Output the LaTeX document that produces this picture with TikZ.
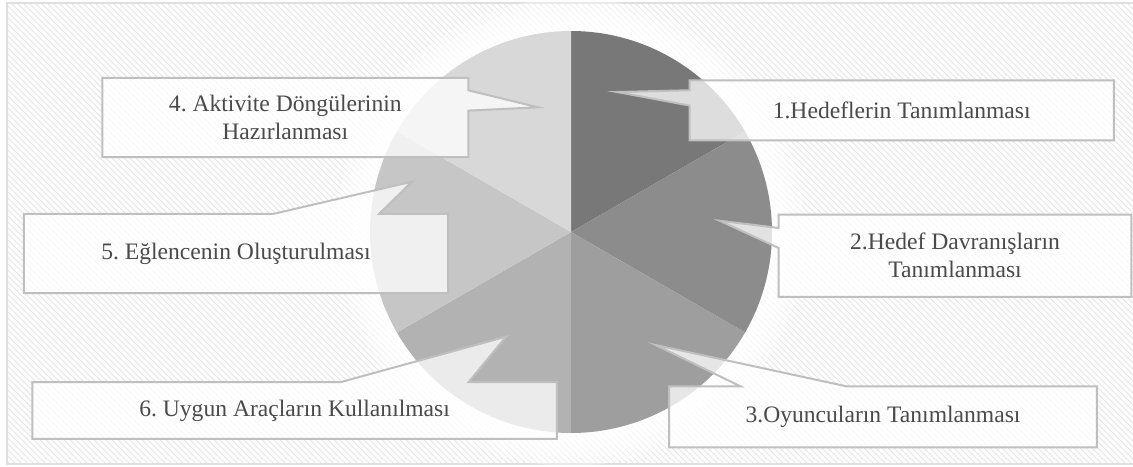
\documentclass[tikz,border=0pt]{standalone}
\usepackage{fontspec}
\setmainfont{Liberation Serif}
\usetikzlibrary{calc, patterns}
\frenchspacing

\definecolor{sliceA}{HTML}{787878}
\definecolor{sliceB}{HTML}{8C8C8C}
\definecolor{sliceC}{HTML}{9E9E9E}
\definecolor{sliceD}{HTML}{B2B2B2}
\definecolor{sliceE}{HTML}{C6C6C6}
\definecolor{sliceF}{HTML}{D8D8D8}
\definecolor{boxline}{HTML}{BFBFBF}
\definecolor{labeltext}{HTML}{4A4A4A}

\pgfdeclarelayer{background}
\pgfsetlayers{background,main}

\begin{document}
\begin{tikzpicture}[
            x=0.5pt, y=-0.5pt,
            callout/.style={draw=boxline, line width=1pt, fill=white, fill opacity=0.75},
            label box/.style={inner sep=0pt, text=labeltext, align=center, font=\fontsize{11.8pt}{14pt}\selectfont}
        ]
        \useasboundingbox (0, 0) rectangle (1133, 466);
        \coordinate (pc) at (571, 232);

        % Labels
        \node [label box, minimum width=211.75pt, minimum height=29.65pt] (goals) at (901.7, 110.3) {1.Hedeflerin Tanımlanması};
        \node [label box, minimum width=176pt, minimum height=40.75pt] (target_behav) at (955, 255.8) {2.Hedef Davranışların\\Tanımlanması};
        \node [label box, minimum width=213.5pt, minimum height=30.15pt] (players) at (883, 416.8) {3.Oyuncuların Tanımlanması};
        \node [label box, minimum width=182.65pt, minimum height=39.2pt] (activity_loops) at (285.3, 117.5) {4. Aktivite Döngülerinin\\Hazırlanması};
        \node [label box, minimum width=211.75pt, minimum height=39.2pt] (fun) at (236, 253.5) {5. Eğlencenin Oluşturulması};
        \node [label box, minimum width=261.9pt, minimum height=28pt] (tools) at (294.6, 410.5) {6. Uygun Araçların Kullanılması};

        % Pointer tips
        \coordinate (tip_goals) at (617, 92);
        \coordinate (tip_target_behav) at (719.5, 220.7);
        \coordinate (tip_players) at (655.6, 345);
        \coordinate (tip_activity_loops) at (538, 107.3);
        \coordinate (tip_fun) at (412, 181.7);
        \coordinate (tip_tools) at (506, 336.7);

        \begin{pgfonlayer}{background}
            % Background and frame
            \fill[white] (0, 0) rectangle (1133, 466);
            \fill[pattern=north west lines, pattern color=gray!20] (7, 3) rectangle (1140, 464);
            \draw[gray!25, line width=1pt] (7, 3) rectangle (1140, 464);

            % Glow round the pie
            \foreach \r in {234, 226, 218, 210}
                \fill[white, opacity=0.35] (pc) circle[radius=\r];

            % Pie slices
            \foreach \s/\col in {0/sliceA, 1/sliceB, 2/sliceC, 3/sliceD, 4/sliceE, 5/sliceF}
                \fill[\col] (pc) -- ++(-90+60*\s:201) arc[start angle=-90+60*\s, delta angle=60, radius=201] -- cycle;

            % Callouts
            \draw[callout] (goals.north west) -- (goals.north east) -- (goals.south east) -- (goals.south west)
                -- ($(goals.north west)+(0, 25.3)$) -- (tip_goals) -- ($(goals.north west)+(0, 10)$) -- cycle;
            \draw[callout] (target_behav.north west) -- (target_behav.north east) -- (target_behav.south east) -- (target_behav.south west)
                -- ($(target_behav.north west)+(0, 33.3)$) -- (tip_target_behav) -- ($(target_behav.north west)+(0, 13.3)$) -- cycle;
            \draw[callout] (players.north west) -- ($(players.north west)+(71.2, 0)$) -- (tip_players) -- ($(players.north west)+(177, 0)$)
                -- (players.north east) -- (players.south east) -- (players.south west) -- cycle;
            \draw[callout] (activity_loops.north west) -- (activity_loops.north east) -- ($(activity_loops.north east)+(0, 12.4)$)
                -- (tip_activity_loops) -- ($(activity_loops.north east)+(0, 32.7)$) -- (activity_loops.south east) -- (activity_loops.south west) -- cycle;
            \draw[callout] (fun.north west) -- ($(fun.north west)+(249.4, 0)$) -- (tip_fun) -- ($(fun.north west)+(355.3, 0)$)
                -- (fun.north east) -- (fun.south east) -- (fun.south west) -- cycle;
            \draw[callout] (tools.north west) -- ($(tools.north west)+(308.5, 0)$) -- (tip_tools) -- ($(tools.north west)+(436.3, 0)$)
                -- (tools.north east) -- (tools.south east) -- (tools.south west) -- cycle;
        \end{pgfonlayer}
    \end{tikzpicture}
\end{document}
